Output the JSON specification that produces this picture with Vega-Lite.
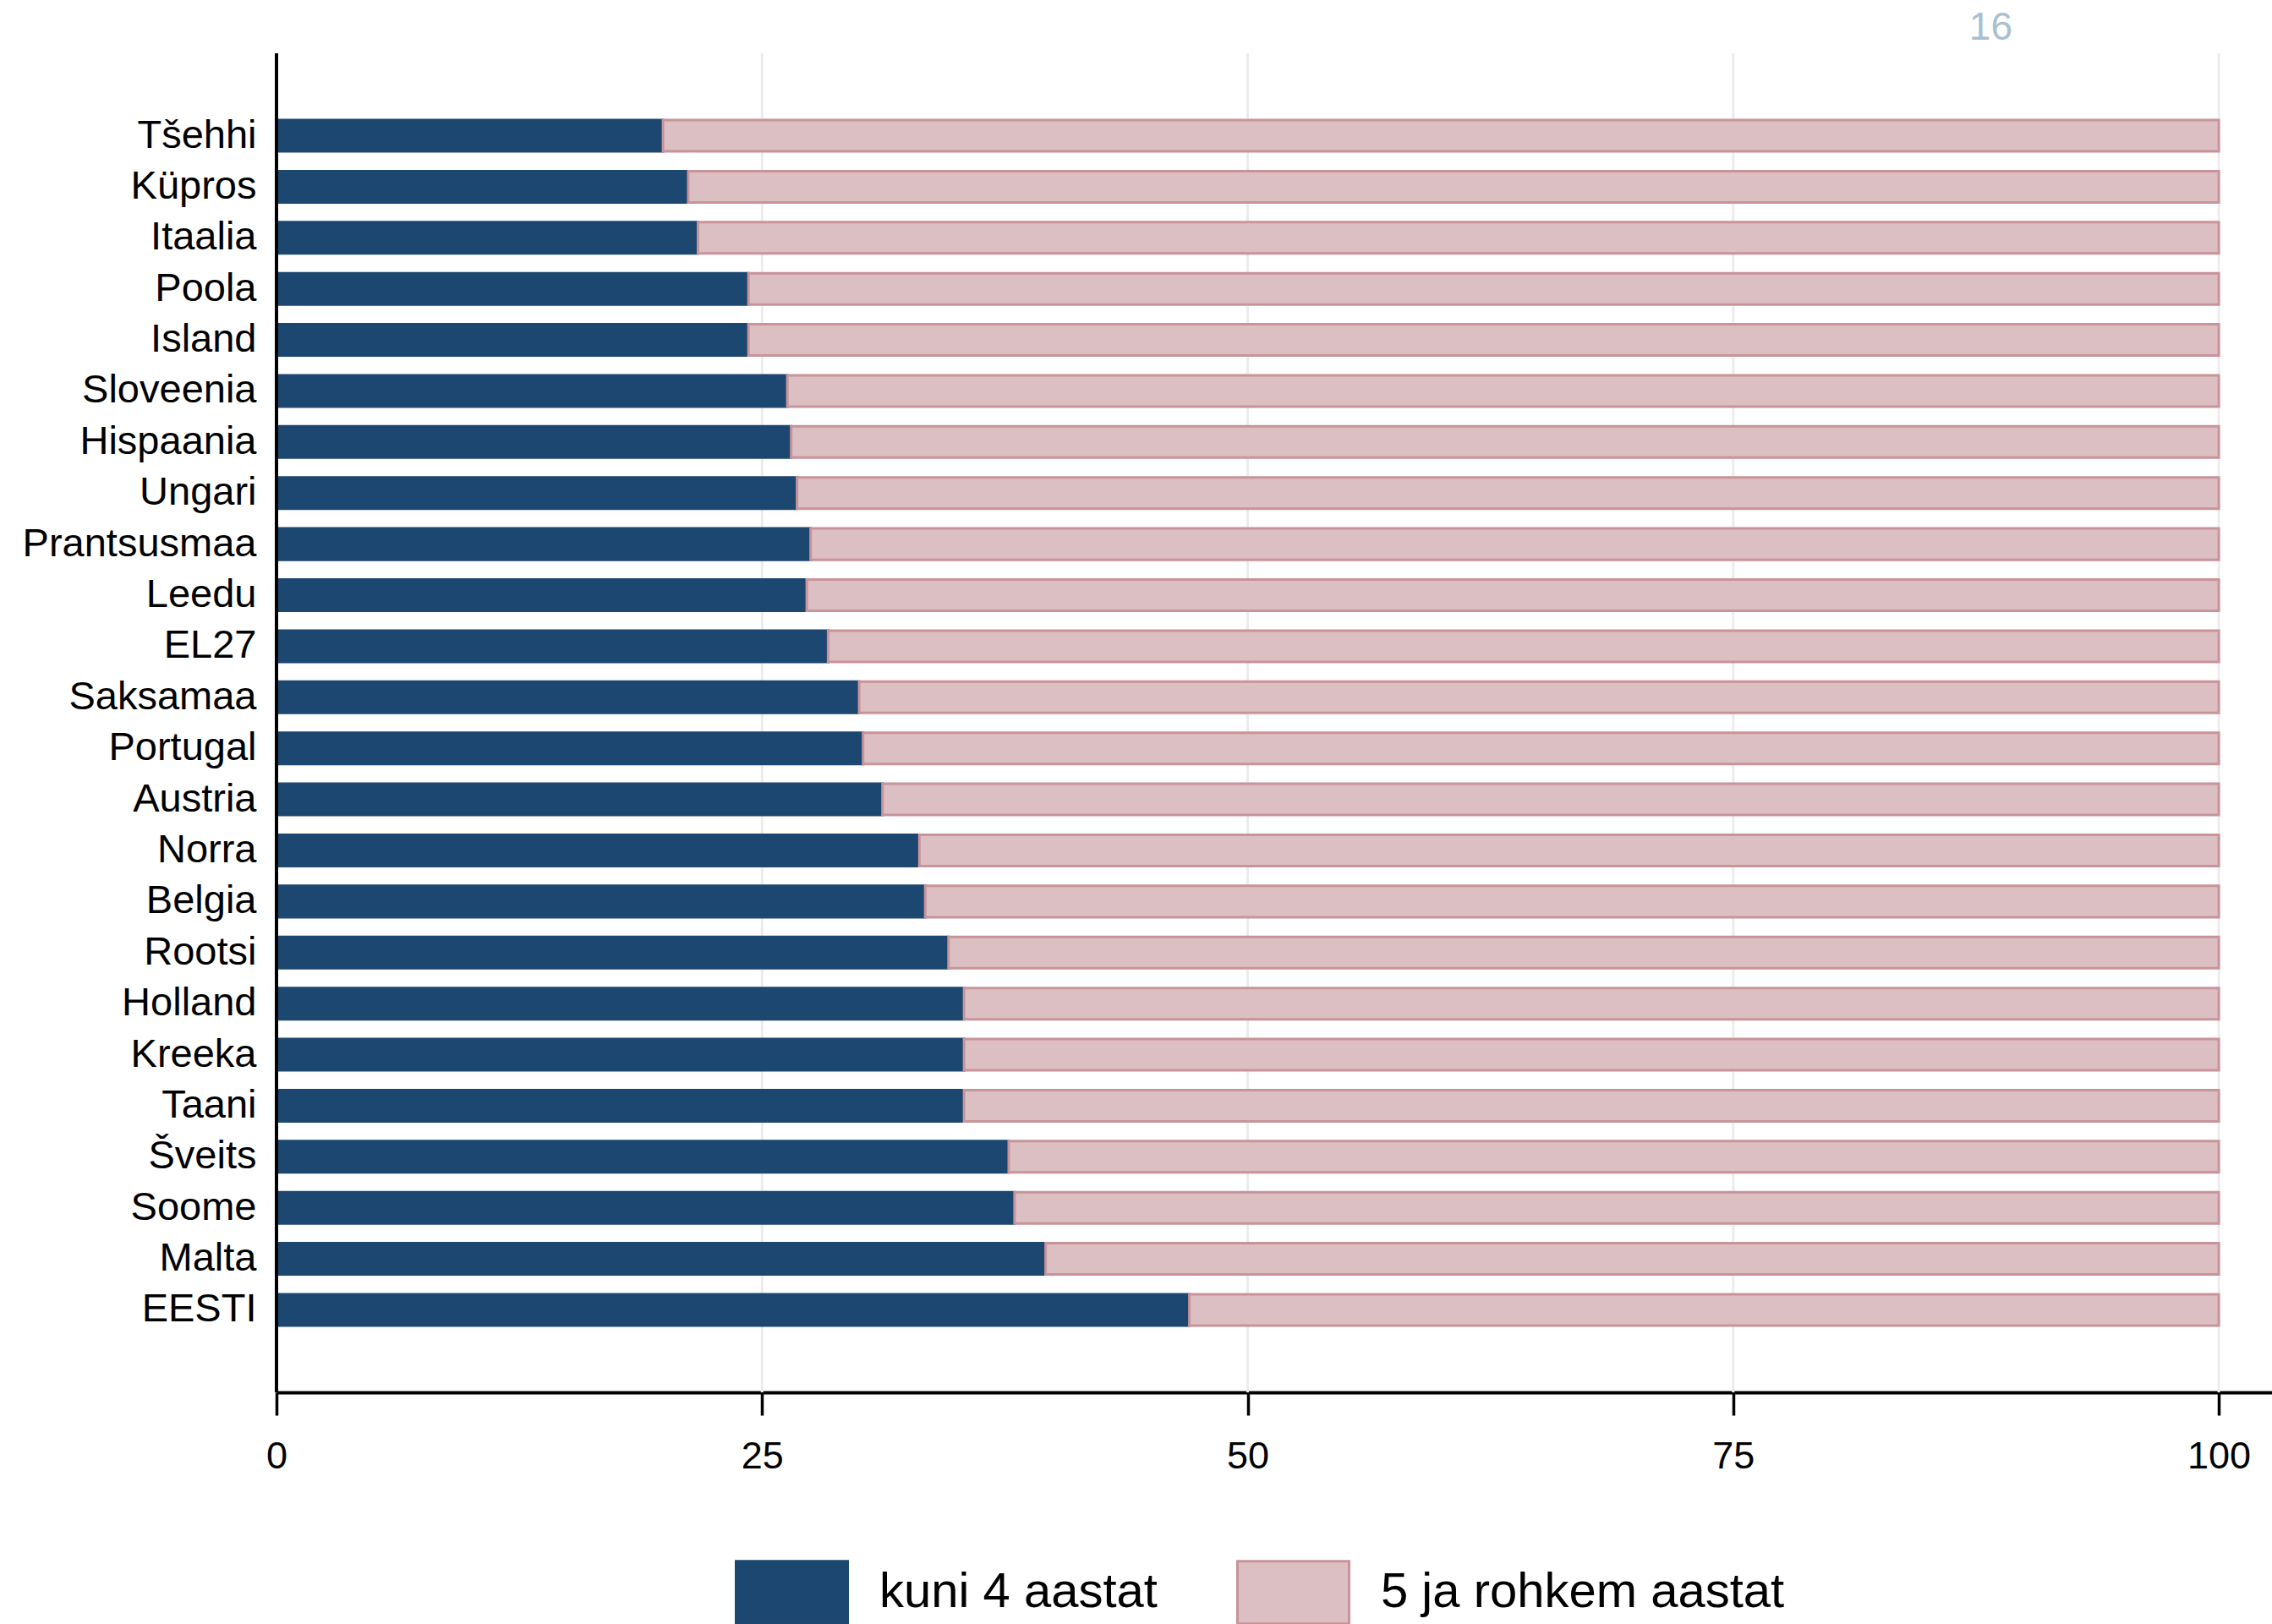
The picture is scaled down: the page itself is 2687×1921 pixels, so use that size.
{
  "$schema": "https://vega.github.io/schema/vega-lite/v6.json",
  "autosize": {"type": "none"},
  "padding": {"left": 327, "top": 63, "right": 0, "bottom": 274},
  "width": 2360,
  "height": 1584,
  "background": "white",
  "title": {
    "text": "16",
    "anchor": "end",
    "orient": "top",
    "font": "Liberation Sans",
    "fontSize": 46,
    "fontWeight": "normal",
    "color": "#a8bfcf",
    "baseline": "alphabetic",
    "offset": -31,
    "dx": -307
  },
  "config": {
    "view": {"stroke": null},
    "font": "Liberation Sans"
  },
  "datasets": {
    "gitter": [{"v": 25}, {"v": 50}, {"v": 75}, {"v": 100}]
  },
  "data": {
    "values": [
      {"riik": "Tšehhi", "tüüp": "kuni 4 aastat", "osakaal": 19.9},
      {"riik": "Tšehhi", "tüüp": "5 ja rohkem aastat", "osakaal": 80.1},
      {"riik": "Küpros", "tüüp": "kuni 4 aastat", "osakaal": 21.2},
      {"riik": "Küpros", "tüüp": "5 ja rohkem aastat", "osakaal": 78.8},
      {"riik": "Itaalia", "tüüp": "kuni 4 aastat", "osakaal": 21.7},
      {"riik": "Itaalia", "tüüp": "5 ja rohkem aastat", "osakaal": 78.3},
      {"riik": "Poola", "tüüp": "kuni 4 aastat", "osakaal": 24.3},
      {"riik": "Poola", "tüüp": "5 ja rohkem aastat", "osakaal": 75.7},
      {"riik": "Island", "tüüp": "kuni 4 aastat", "osakaal": 24.3},
      {"riik": "Island", "tüüp": "5 ja rohkem aastat", "osakaal": 75.7},
      {"riik": "Sloveenia", "tüüp": "kuni 4 aastat", "osakaal": 26.3},
      {"riik": "Sloveenia", "tüüp": "5 ja rohkem aastat", "osakaal": 73.7},
      {"riik": "Hispaania", "tüüp": "kuni 4 aastat", "osakaal": 26.5},
      {"riik": "Hispaania", "tüüp": "5 ja rohkem aastat", "osakaal": 73.5},
      {"riik": "Ungari", "tüüp": "kuni 4 aastat", "osakaal": 26.8},
      {"riik": "Ungari", "tüüp": "5 ja rohkem aastat", "osakaal": 73.2},
      {"riik": "Prantsusmaa", "tüüp": "kuni 4 aastat", "osakaal": 27.5},
      {"riik": "Prantsusmaa", "tüüp": "5 ja rohkem aastat", "osakaal": 72.5},
      {"riik": "Leedu", "tüüp": "kuni 4 aastat", "osakaal": 27.3},
      {"riik": "Leedu", "tüüp": "5 ja rohkem aastat", "osakaal": 72.7},
      {"riik": "EL27", "tüüp": "kuni 4 aastat", "osakaal": 28.4},
      {"riik": "EL27", "tüüp": "5 ja rohkem aastat", "osakaal": 71.6},
      {"riik": "Saksamaa", "tüüp": "kuni 4 aastat", "osakaal": 30.0},
      {"riik": "Saksamaa", "tüüp": "5 ja rohkem aastat", "osakaal": 70.0},
      {"riik": "Portugal", "tüüp": "kuni 4 aastat", "osakaal": 30.2},
      {"riik": "Portugal", "tüüp": "5 ja rohkem aastat", "osakaal": 69.8},
      {"riik": "Austria", "tüüp": "kuni 4 aastat", "osakaal": 31.2},
      {"riik": "Austria", "tüüp": "5 ja rohkem aastat", "osakaal": 68.8},
      {"riik": "Norra", "tüüp": "kuni 4 aastat", "osakaal": 33.1},
      {"riik": "Norra", "tüüp": "5 ja rohkem aastat", "osakaal": 66.9},
      {"riik": "Belgia", "tüüp": "kuni 4 aastat", "osakaal": 33.4},
      {"riik": "Belgia", "tüüp": "5 ja rohkem aastat", "osakaal": 66.6},
      {"riik": "Rootsi", "tüüp": "kuni 4 aastat", "osakaal": 34.6},
      {"riik": "Rootsi", "tüüp": "5 ja rohkem aastat", "osakaal": 65.4},
      {"riik": "Holland", "tüüp": "kuni 4 aastat", "osakaal": 35.4},
      {"riik": "Holland", "tüüp": "5 ja rohkem aastat", "osakaal": 64.6},
      {"riik": "Kreeka", "tüüp": "kuni 4 aastat", "osakaal": 35.4},
      {"riik": "Kreeka", "tüüp": "5 ja rohkem aastat", "osakaal": 64.6},
      {"riik": "Taani", "tüüp": "kuni 4 aastat", "osakaal": 35.4},
      {"riik": "Taani", "tüüp": "5 ja rohkem aastat", "osakaal": 64.6},
      {"riik": "Šveits", "tüüp": "kuni 4 aastat", "osakaal": 37.7},
      {"riik": "Šveits", "tüüp": "5 ja rohkem aastat", "osakaal": 62.3},
      {"riik": "Soome", "tüüp": "kuni 4 aastat", "osakaal": 38.0},
      {"riik": "Soome", "tüüp": "5 ja rohkem aastat", "osakaal": 62.0},
      {"riik": "Malta", "tüüp": "kuni 4 aastat", "osakaal": 39.6},
      {"riik": "Malta", "tüüp": "5 ja rohkem aastat", "osakaal": 60.4},
      {"riik": "EESTI", "tüüp": "kuni 4 aastat", "osakaal": 47.0},
      {"riik": "EESTI", "tüüp": "5 ja rohkem aastat", "osakaal": 53.0}
    ]
  },
  "layer": [
    {
      "data": {"name": "gitter"},
      "mark": {"type": "rule", "color": "#ececec", "strokeWidth": 3},
      "encoding": {
        "x": {"field": "v", "type": "quantitative", "scale": {"domain": [0, 102.74], "nice": false, "zero": true}}
      }
    },
    {
      "mark": {"type": "bar", "strokeWidth": 3},
      "encoding": {
        "y": {
          "field": "riik",
          "type": "nominal",
          "sort": ["Tšehhi", "Küpros", "Itaalia", "Poola", "Island", "Sloveenia", "Hispaania", "Ungari", "Prantsusmaa", "Leedu", "EL27", "Saksamaa", "Portugal", "Austria", "Norra", "Belgia", "Rootsi", "Holland", "Kreeka", "Taani", "Šveits", "Soome", "Malta", "EESTI"],
          "scale": {"range": [79, 1505], "paddingInner": 0.387, "paddingOuter": 0},
          "axis": {
            "title": null,
            "ticks": false,
            "grid": false,
            "domain": false,
            "labelFont": "Liberation Sans",
            "labelFontSize": 47,
            "labelColor": "#000000",
            "labelPadding": 24,
            "labelLimit": 0
          }
        },
        "x": {
          "field": "osakaal",
          "type": "quantitative",
          "stack": "zero",
          "scale": {"domain": [0, 102.74], "nice": false, "zero": true},
          "axis": {
            "title": null,
            "values": [0, 25, 50, 75, 100],
            "grid": false,
            "domain": true,
            "domainColor": "#000000",
            "domainWidth": 4,
            "ticks": true,
            "tickColor": "#000000",
            "tickWidth": 3.5,
            "tickSize": 27,
            "labels": true,
            "labelFont": "Liberation Sans",
            "labelFontSize": 45,
            "labelColor": "#000000",
            "labelPadding": 26,
            "labelFlush": false
          }
        },
        "fill": {
          "field": "tüüp",
          "type": "nominal",
          "scale": {"domain": ["kuni 4 aastat", "5 ja rohkem aastat"], "range": ["#1c4770", "#dcbfc2"]},
          "legend": {
            "title": null,
            "orient": "none",
            "direction": "horizontal",
            "legendX": 542,
            "legendY": 1753,
            "symbolType": "M-1,-0.56H1V0.56H-1Z",
            "symbolSize": 17424,
            "symbolStrokeWidth": 3,
            "symbolOpacity": 1,
            "labelFont": "Liberation Sans",
            "labelFontSize": 58,
            "labelColor": "#000000",
            "labelOffset": 36,
            "columnPadding": 88,
            "labelLimit": 0
          }
        },
        "stroke": {
          "field": "tüüp",
          "type": "nominal",
          "scale": {"domain": ["kuni 4 aastat", "5 ja rohkem aastat"], "range": ["#1c4770", "#c8939a"]}
        },
        "order": {"field": "tüüp", "sort": "descending"}
      }
    },
    {
      "mark": {"type": "rule", "color": "#000000", "strokeWidth": 2.5},
      "encoding": {
        "x": {"datum": 0}
      }
    }
  ]
}
